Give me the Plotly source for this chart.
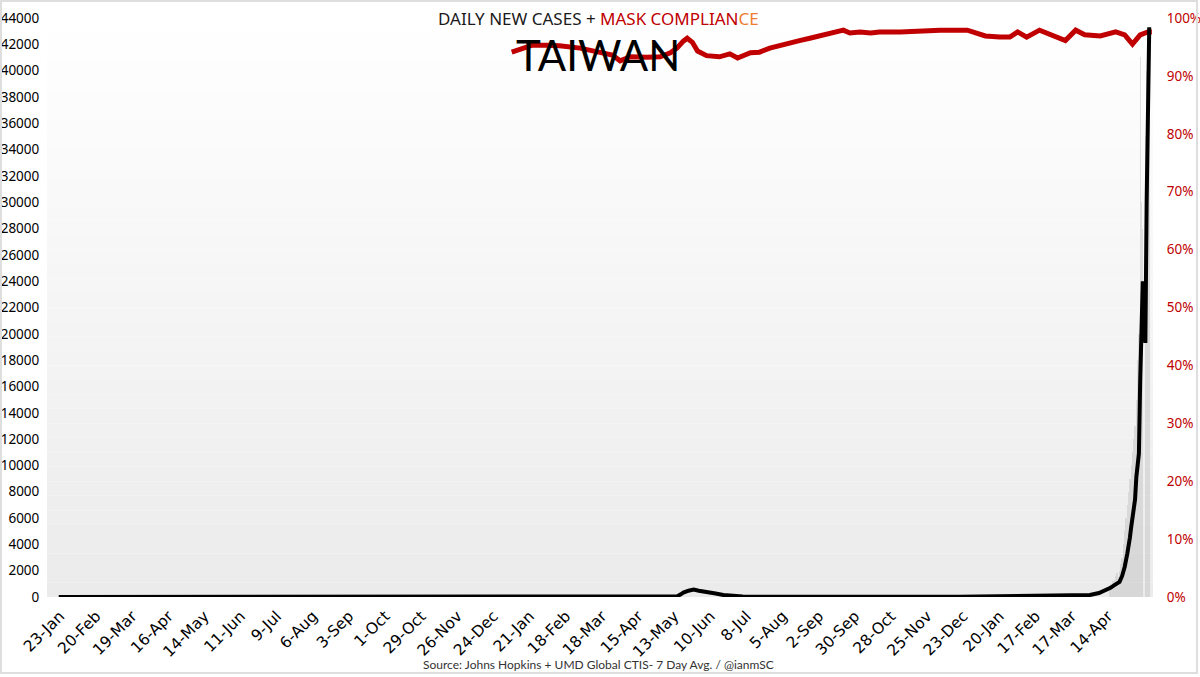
import plotly.graph_objects as go

# ---------------- data ----------------
case_dates = [
    "2020-01-22", "2020-02-10", "2020-03-10", "2020-03-22", "2020-04-05", "2020-04-20",
    "2020-05-10", "2020-07-01", "2020-10-01", "2020-12-20", "2021-02-01", "2021-04-01",
    "2021-05-10", "2021-05-15", "2021-05-18", "2021-05-20", "2021-05-24", "2021-05-28",
    "2021-06-01", "2021-06-05", "2021-06-09", "2021-06-14", "2021-06-20", "2021-06-27",
    "2021-07-05", "2021-07-15", "2021-08-01", "2021-09-01", "2021-10-01", "2021-11-01",
    "2021-12-01", "2021-12-20", "2022-01-05", "2022-01-20", "2022-02-05", "2022-02-20",
    "2022-03-05", "2022-03-20", "2022-03-31", "2022-04-07", "2022-04-12", "2022-04-16",
    "2022-04-19", "2022-04-23", "2022-04-25", "2022-04-27", "2022-04-29", "2022-04-30",
    "2022-05-01", "2022-05-02", "2022-05-03", "2022-05-04", "2022-05-05", "2022-05-06",
    "2022-05-07", "2022-05-08", "2022-05-09", "2022-05-10", "2022-05-11", "2022-05-12",
    "2022-05-13", "2022-05-14", "2022-05-15", "2022-05-16",
]
case_avg = [
    0, 2, 4, 20, 12, 4,
    1, 1, 1, 3, 2, 3,
    3, 40, 200, 330, 480, 560,
    470, 420, 360, 260, 150, 80,
    40, 20, 10, 8, 6, 5,
    10, 20, 40, 70, 60, 50,
    60, 100, 150, 300, 500, 700,
    900, 1150, 1600, 2300, 3300, 3800,
    4500, 5300, 6200, 6800, 7400, 9100,
    10300, 10900, 16500, 21000, 24000, 21500,
    19300, 30000, 38800, 43300,
]

daily_dates = [
    "2022-04-15", "2022-04-16", "2022-04-17", "2022-04-18", "2022-04-19", "2022-04-20",
    "2022-04-21", "2022-04-22", "2022-04-23", "2022-04-24", "2022-04-25", "2022-04-26",
    "2022-04-27", "2022-04-28", "2022-04-29", "2022-04-30", "2022-05-01", "2022-05-02",
    "2022-05-03", "2022-05-04", "2022-05-05", "2022-05-06", "2022-05-07", "2022-05-08",
    "2022-05-09", "2022-05-10", "2022-05-11", "2022-05-12", "2022-05-13", "2022-05-14",
    "2022-05-15", "2022-05-16",
]
daily_cases = [
    900, 1000, 700, 1200, 1300, 1600,
    1800, 1500, 2000, 2500, 3000, 4000,
    5000, 6000, 7000, 8000, 9000, 10000,
    11000, 12000, 13000, 15000, 18000, 20000,
    41000, 30000, 28000, 0, 35000, 40000,
    38000, 39000,
]

mask_dates = [
    "2021-01-07", "2021-01-13", "2021-01-23", "2021-02-03", "2021-02-13", "2021-03-01",
    "2021-03-16", "2021-03-26", "2021-04-01", "2021-04-09", "2021-04-22", "2021-05-02",
    "2021-05-10", "2021-05-15", "2021-05-20", "2021-05-23", "2021-05-27", "2021-05-31",
    "2021-06-07", "2021-06-17", "2021-06-25", "2021-07-01", "2021-07-11", "2021-07-18",
    "2021-07-26", "2021-08-03", "2021-08-11", "2021-08-18", "2021-08-26", "2021-09-03",
    "2021-09-11", "2021-09-21", "2021-09-26", "2021-10-04", "2021-10-12", "2021-10-19",
    "2021-11-04", "2021-11-19", "2021-12-05", "2021-12-26", "2022-01-09", "2022-01-20",
    "2022-01-28", "2022-02-03", "2022-02-10", "2022-02-20", "2022-03-02", "2022-03-12",
    "2022-03-20", "2022-03-27", "2022-04-08", "2022-04-20", "2022-04-27", "2022-05-03",
    "2022-05-09", "2022-05-15", "2022-05-18",
]
mask_pct = [
    94.1, 94.5, 95.3, 95.3, 95.2, 94.8,
    94.1, 93.6, 92.6, 93.3, 93.2, 93.3,
    94.0, 94.8, 96.0, 96.5, 95.8, 94.3,
    93.5, 93.3, 93.8, 93.1, 94.0, 94.1,
    94.8, 95.3, 95.8, 96.1, 96.5, 96.9,
    97.2, 97.9, 97.4, 97.6, 97.4, 97.6,
    97.6, 97.8, 97.9, 97.9, 96.9, 96.7,
    96.7, 97.6, 96.7, 97.9, 96.9, 96.1,
    97.9, 97.1, 96.9, 97.6, 97.1, 95.5,
    97.1, 97.6, 97.6,
]

tick_dates = [
    "2020-01-23", "2020-02-20", "2020-03-19", "2020-04-16", "2020-05-14", "2020-06-11",
    "2020-07-09", "2020-08-06", "2020-09-03", "2020-10-01", "2020-10-29", "2020-11-26",
    "2020-12-24", "2021-01-21", "2021-02-18", "2021-03-18", "2021-04-15", "2021-05-13",
    "2021-06-10", "2021-07-08", "2021-08-05", "2021-09-02", "2021-09-30", "2021-10-28",
    "2021-11-25", "2021-12-23", "2022-01-20", "2022-02-17", "2022-03-17", "2022-04-14",
]
tick_labels = [
    "23-Jan", "20-Feb", "19-Mar", "16-Apr", "14-May", "11-Jun",
    "9-Jul", "6-Aug", "3-Sep", "1-Oct", "29-Oct", "26-Nov",
    "24-Dec", "21-Jan", "18-Feb", "18-Mar", "15-Apr", "13-May",
    "10-Jun", "8-Jul", "5-Aug", "2-Sep", "30-Sep", "28-Oct",
    "25-Nov", "23-Dec", "20-Jan", "17-Feb", "17-Mar", "14-Apr",
]

# ---------------- figure ----------------
FONT = "Noto Sans"
RED = "#c00000"
ORANGE = "#ed7d31"

fig = go.Figure()

fig.add_trace(go.Scatter(
    x=mask_dates, y=[v / 100 for v in mask_pct], mode="lines",
    line=dict(color=RED, width=5), yaxis="y", name="Mask compliance",
))
fig.add_trace(go.Bar(
    x=daily_dates, y=daily_cases, marker=dict(color="rgba(190,190,190,0.45)", line=dict(width=0)),
    yaxis="y2", name="Daily cases",
))
fig.add_trace(go.Scatter(
    x=case_dates, y=case_avg, mode="lines",
    line=dict(color="black", width=4), yaxis="y2", name="7-day avg",
))

# gradient background bands for the plot area
shapes = []
n = 40
for i in range(n):
    t = i / (n - 1)  # 0 bottom -> 1 top
    g = int(round(235 + (255 - 235) * t))
    shapes.append(dict(
        type="rect", xref="paper", yref="paper", x0=0, x1=1,
        y0=i / n, y1=(i + 1) / n, fillcolor=f"rgb({g},{g},{g})",
        line=dict(width=0), layer="below",
    ))
# outer frame
shapes.append(dict(
    type="rect", xref="paper", yref="paper",
    x0=-0.0416, x1=1.0398, y0=-0.1313, y1=1.0294,
    line=dict(color="#dedede", width=2), fillcolor="rgba(0,0,0,0)", layer="above",
))

fig.update_layout(
    width=1200, height=677,
    margin=dict(l=47, r=47, t=18, b=80),
    paper_bgcolor="white", plot_bgcolor="white",
    showlegend=False, bargap=0,
    font=dict(family=FONT, size=13, color="black"),
    shapes=shapes,
    xaxis=dict(
        type="date", range=["2020-01-12 22:00", "2022-05-18 22:00"],
        tickvals=tick_dates, ticktext=tick_labels, tickangle=-45,
        showgrid=False, zeroline=False, showline=False, automargin=False,
        ticks="outside", ticklen=3, tickcolor="rgba(0,0,0,0)",
        tickfont=dict(family="DejaVu Sans", size=15.5, color="black"),
    ),
    yaxis=dict(
        side="right", range=[0, 1], dtick=0.1, tickformat=".0%",
        showgrid=False, zeroline=False, showline=False, automargin=False,
        ticks="outside", ticklen=10, tickcolor="rgba(0,0,0,0)",
        tickfont=dict(family=FONT, size=13.5, color=RED),
    ),
    yaxis2=dict(
        side="left", overlaying="y", range=[0, 44000], dtick=2000,
        showgrid=False, zeroline=False, showline=False, automargin=False,
        ticks="outside", ticklen=4, tickcolor="rgba(0,0,0,0)",
        tickformat="d",
        tickfont=dict(family=FONT, size=13.5, color="black"),
    ),
    annotations=[
        dict(
            text=("DAILY NEW CASES + <span style='color:%s'>MASK COMPLIAN</span>"
                  "<span style='color:%s'>CE</span>") % (RED, ORANGE),
            xref="paper", yref="paper", x=(598 - 47) / 1106, y=(597 - 19) / 579,
            xanchor="center", yanchor="middle", showarrow=False,
            font=dict(family=FONT, size=17, color="#1a1a1a"),
        ),
        dict(
            text="TAIWAN",
            xref="paper", yref="paper", x=(598 - 47) / 1106, y=(597 - 55) / 579,
            xanchor="center", yanchor="middle", showarrow=False,
            font=dict(family="Lato", size=42, color="black"),
        ),
        dict(
            text="Source: Johns Hopkins + UMD Global CTIS- 7 Day Avg. / @ianmSC",
            xref="paper", yref="paper", x=(598 - 47) / 1106, y=(597 - 665) / 579,
            xanchor="center", yanchor="middle", showarrow=False,
            font=dict(family="Lato", size=12, color="#333333"),
        ),
    ],
)

fig.write_html("out.html", config={"displayModeBar": False},
               post_script="document.body.style.margin='0';")
